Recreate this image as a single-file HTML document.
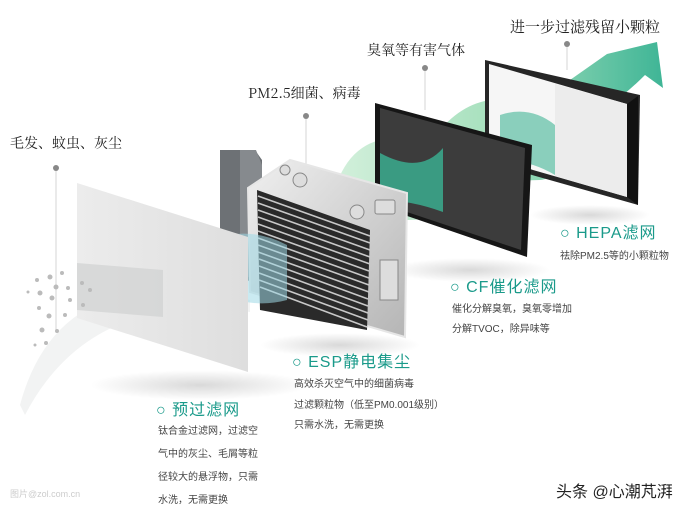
<!DOCTYPE html>
<html><head><meta charset="utf-8"><style>
body{margin:0;width:700px;height:512px;overflow:hidden;background:#fff;font-family:"Liberation Sans","Noto Sans CJK SC",sans-serif}
svg{position:absolute;left:0;top:0}
.t{position:absolute;white-space:nowrap}
.h{color:#1a9a8a;font-size:16px;letter-spacing:1px}
.d{color:#444;font-size:10px}
.s{color:#222;font-family:"Noto Serif CJK SC",serif;font-size:14px}
</style></head><body>
<svg width="700" height="512" viewBox="0 0 700 512">
<defs>
<linearGradient id="g1" x1="0" y1="0" x2="1" y2="0"><stop offset="0" stop-color="#d4f0dc"/><stop offset="0.5" stop-color="#a6e0bd"/><stop offset="1" stop-color="#3fb596"/></linearGradient>
<linearGradient id="g2" x1="0" y1="0" x2="1" y2="0"><stop offset="0" stop-color="#ececec"/><stop offset="1" stop-color="#dedede"/></linearGradient>
<linearGradient id="al" x1="0" y1="0" x2="1" y2="1"><stop offset="0" stop-color="#f0f0f0"/><stop offset="1" stop-color="#b5b5b5"/></linearGradient>
<radialGradient id="sh"><stop offset="0" stop-color="#000" stop-opacity="0.15"/><stop offset="1" stop-color="#000" stop-opacity="0"/></radialGradient>
</defs>
<g stroke="#ccc" stroke-width="0.8"><line x1="56" y1="168" x2="56" y2="330"/><line x1="306" y1="116" x2="306" y2="165"/><line x1="425" y1="68" x2="425" y2="110"/><line x1="567" y1="44" x2="567" y2="70"/></g>
<g fill="#888"><circle cx="56" cy="168" r="3"/><circle cx="306" cy="116" r="3"/><circle cx="425" cy="68" r="3"/><circle cx="567" cy="44" r="3"/></g>
<ellipse cx="200" cy="385" rx="110" ry="15" fill="url(#sh)"/>
<ellipse cx="340" cy="345" rx="80" ry="12" fill="url(#sh)"/>
<ellipse cx="470" cy="270" rx="80" ry="12" fill="url(#sh)"/>
<ellipse cx="590" cy="215" rx="60" ry="10" fill="url(#sh)"/>
<path d="M20 405 Q60 255 250 300 L250 312 Q90 290 25 415Z" fill="#f2f3f3"/>
<path d="M330 210 Q340 150 380 140 Q420 135 440 130 Q470 95 510 100 Q550 105 570 80 L607 54 L657 42 L663 88 L645 75 Q610 110 580 120 Q560 180 540 180 Q500 180 470 200 Q420 230 380 215 Q350 215 330 230Z" fill="url(#g1)"/>
<polygon points="485,60 640,95 638,205 532,175 485,160" fill="#262626"/>
<polygon points="489,64 627,104 627,197 533,170 489,155" fill="#f6f6f6"/>
<polygon points="555,84 627,104 627,197 555,176" fill="#ececec"/>
<polygon points="627,104 638,96 638,205 627,197" fill="#111"/>
<path d="M500 115 Q530 105 555 125 L555 175 Q530 160 500 160Z" fill="#43b596" opacity="0.6"/>
<polygon points="375,103 532,145 527,257 375,205" fill="#161616"/>
<polygon points="380,108 525,148 521,250 380,203" fill="#3c3c3c"/>
<path d="M380 153 Q420 175 443 148 L443 212 Q410 200 380 200Z" fill="#3ab394" opacity="0.8"/>
<polygon points="220,150 255,150 262,160 262,290 230,268 220,255" fill="#6d7175"/>
<polygon points="240,150 256,150 262,165 262,285 240,272" fill="#868a8e"/>
<polygon points="248,188 290,160 407,193 405,337 250,292" fill="url(#al)" stroke="#e6e6e6" stroke-width="2"/>
<polygon points="257,190 370,230 367,330 260,310" fill="#2a2a2a"/>
<g stroke="#c8c8c8" stroke-width="1.6">
<line x1="258" y1="196" x2="370" y2="236"/><line x1="258" y1="203" x2="370" y2="243"/><line x1="258" y1="210" x2="370" y2="250"/><line x1="258" y1="217" x2="370" y2="257"/><line x1="258" y1="224" x2="370" y2="264"/><line x1="258" y1="231" x2="369" y2="271"/><line x1="258" y1="238" x2="369" y2="278"/><line x1="258" y1="245" x2="369" y2="285"/><line x1="258" y1="252" x2="369" y2="292"/><line x1="259" y1="259" x2="368" y2="299"/><line x1="259" y1="266" x2="368" y2="306"/><line x1="259" y1="273" x2="368" y2="313"/><line x1="259" y1="280" x2="368" y2="320"/><line x1="260" y1="287" x2="367" y2="327"/>
</g>
<g fill="#ddd" stroke="#888"><circle cx="300" cy="180" r="7"/><circle cx="357" cy="212" r="7"/><circle cx="285" cy="170" r="5"/><rect x="375" y="200" width="20" height="14" rx="2"/><rect x="380" y="260" width="18" height="40"/></g>
<path d="M210 240 Q250 225 287 245 L287 300 Q250 310 210 290Z" fill="#9ed8e6" opacity="0.55"/>
<polygon points="77,183 248,237 248,372 77,318" fill="url(#g2)"/>
<polygon points="77,263 163,270 163,317 77,310" fill="#d0d2d2" opacity="0.7"/>
<g fill="#bbb"><circle cx="37" cy="280" r="2"/><circle cx="50" cy="277" r="2.5"/><circle cx="62" cy="273" r="2"/><circle cx="40" cy="293" r="2.5"/><circle cx="56" cy="287" r="2.5"/><circle cx="68" cy="288" r="2"/><circle cx="82" cy="283" r="2"/><circle cx="90" cy="290" r="2"/><circle cx="52" cy="298" r="2.5"/><circle cx="70" cy="300" r="2"/><circle cx="83" cy="305" r="2"/><circle cx="39" cy="308" r="2"/><circle cx="49" cy="316" r="2.5"/><circle cx="65" cy="315" r="2"/><circle cx="42" cy="330" r="2.5"/><circle cx="57" cy="331" r="2"/><circle cx="35" cy="345" r="1.5"/><circle cx="46" cy="343" r="2"/><circle cx="28" cy="292" r="1.5"/></g>
</svg>
<div class="t s" style="left:510px;top:16px;font-size:15px">进一步过滤残留小颗粒</div>
<div class="t s" style="left:367px;top:40px">臭氧等有害气体</div>
<div class="t s" style="left:248px;top:83px">PM2.5细菌、病毒</div>
<div class="t s" style="left:10px;top:133px">毛发、蚊虫、灰尘</div>
<div class="t h" style="left:560px;top:219px">○ HEPA滤网</div>
<div class="t d" style="left:560px;top:247px">祛除PM2.5等的小颗粒物</div>
<div class="t h" style="left:450px;top:273px">○ CF催化滤网</div>
<div class="t d" style="left:452px;top:300px">催化分解臭氧，臭氧零增加</div>
<div class="t d" style="left:452px;top:320px">分解TVOC，除异味等</div>
<div class="t h" style="left:292px;top:348px">○ ESP静电集尘</div>
<div class="t d" style="left:294px;top:375px">高效杀灭空气中的细菌病毒</div>
<div class="t d" style="left:294px;top:396px">过滤颗粒物（低至PM0.001级别）</div>
<div class="t d" style="left:294px;top:416px">只需水洗，无需更换</div>
<div class="t h" style="left:156px;top:396px">○ 预过滤网</div>
<div class="t d" style="left:158px;top:422px">钛合金过滤网，过滤空</div>
<div class="t d" style="left:158px;top:445px">气中的灰尘、毛屑等粒</div>
<div class="t d" style="left:158px;top:468px">径较大的悬浮物，只需</div>
<div class="t d" style="left:158px;top:491px">水洗，无需更换</div>
<div class="t" style="left:10px;top:487px;font-size:9px;color:#ccc">图片@zol.com.cn</div>
<div class="t" style="left:556px;top:478px;font-size:16px;color:#222">头条 @心潮芃湃</div>
</body></html>
